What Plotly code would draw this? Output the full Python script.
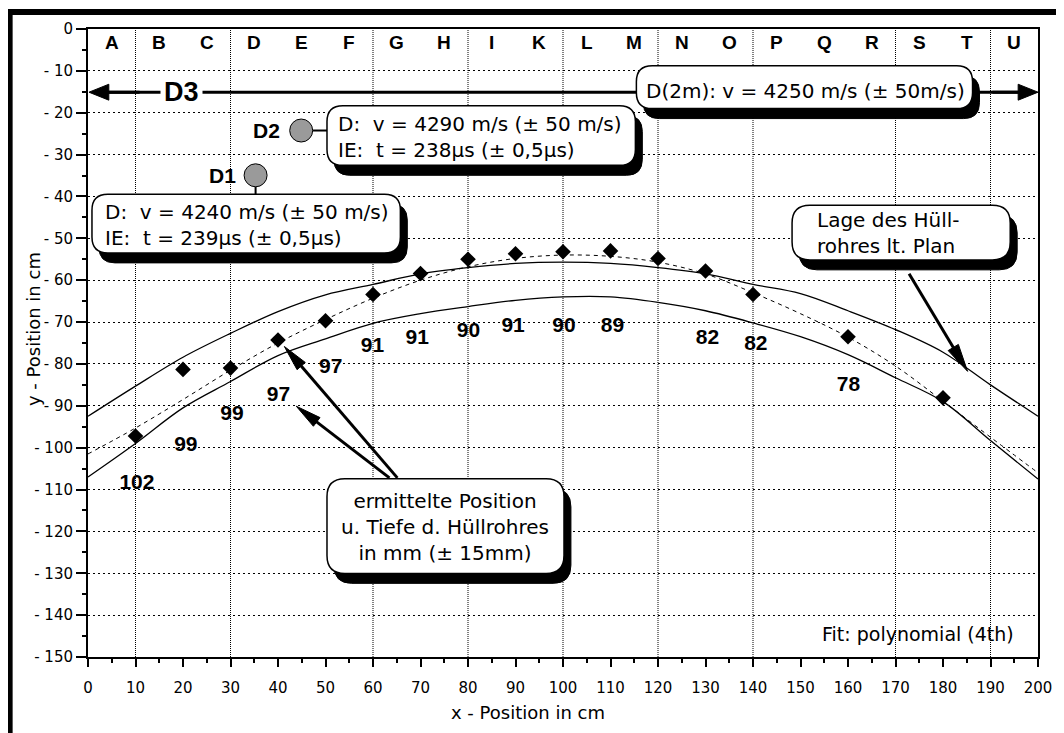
import plotly.graph_objects as go

# ---------------- data ----------------
x_meas = [10, 20, 30, 40, 50, 60, 70, 80, 90, 100, 110, 120, 130, 140, 160, 180]
y_meas = [-97.2, -81.3, -81.0, -74.3, -69.7, -63.4, -58.4, -55.0, -53.7, -53.2,
          -53.0, -54.8, -57.8, -63.4, -73.5, -88.1]

depth_mm = [102, 99, 99, 97, 97, 91, 91, 90, 91, 90, 89, 82, 82, 78]
depth_label_x = [10.3, 20.6, 30.3, 40.1, 51.1, 59.9, 69.3, 80.1, 89.5, 100.2,
                 110.4, 130.4, 140.6, 160.1]
depth_label_y = [-108.6, -99.5, -92.2, -87.7, -81.0, -75.8, -74.1, -72.2, -71.1,
                 -71.1, -71.1, -73.9, -75.4, -85.1]

curve_x = [0, 10, 20, 30, 40, 50, 60, 70, 80, 90, 100, 110, 120, 130, 140, 150,
           160, 170, 180, 190, 200]
plan_upper = [-92.5, -85.3, -78.4, -72.7, -67.5, -63.5, -61.0, -58.5, -57.0, -56.0,
              -55.7, -56.0, -57.0, -58.5, -61.0, -63.2, -67.3, -71.8, -77.2, -85.0, -92.5]
plan_lower = [-107.0, -99.0, -90.5, -84.2, -78.0, -74.0, -70.3, -68.0, -66.3, -64.8,
              -64.0, -64.0, -65.3, -67.3, -70.2, -73.5, -77.8, -83.3, -89.0, -98.3, -107.5]
fit_y = [-101.5, -95.3, -88.5, -81.5, -75.0, -69.4, -64.3, -60.0, -56.8, -54.8,
         -54.0, -54.3, -55.7, -58.5, -63.0, -68.0, -73.6, -80.5, -88.9, -97.5, -106.0]

section_letters = ["A", "B", "C", "D", "E", "F", "G", "H", "I", "K",
                   "L", "M", "N", "O", "P", "Q", "R", "S", "T", "U"]
section_boundaries = [10, 30, 60, 80, 100, 120, 140, 170, 190]

x_tick_vals = [0, 10, 20, 30, 40, 50, 60, 70, 80, 90, 100, 110, 120, 130, 140,
               150, 160, 170, 180, 190, 200]
y_tick_vals = [0, -10, -20, -30, -40, -50, -60, -70, -80, -90, -100, -110, -120,
               -130, -140, -150]
y_tick_text = ["0", "- 10", "- 20", "- 30", "- 40", "- 50", "- 60", "- 70", "- 80",
               "- 90", "- 100", "- 110", "- 120", "- 130", "- 140", "- 150"]

# ---------------- layout helpers (screen pixel -> data / paper) ----------------
SCREEN_W, SCREEN_H = 1064, 733
OFF = 8                      # default page margin of the html body
W, H = SCREEN_W - OFF, SCREEN_H - OFF
PX_L, PX_R, PX_T, PX_B = 88, 1046, 26, 657   # plot area in screen pixels
XMIN, XMAX, YMIN, YMAX = 0, 200, -150, 0


def X(px):
    return XMIN + (px - PX_L) / (PX_R - PX_L) * (XMAX - XMIN)


def Y(py):
    return YMAX - (py - PX_T) / (PX_B - PX_T) * (YMAX - YMIN)


def PXp(px):
    return (px - PX_L) / (PX_R - PX_L)


def PYp(py):
    return (PX_B - py) / (PX_B - PX_T)


def rrect(x0, y0, x1, y1, r):
    return (f"M {X(x0 + r)} {Y(y0)} L {X(x1 - r)} {Y(y0)} "
            f"Q {X(x1)} {Y(y0)} {X(x1)} {Y(y0 + r)} L {X(x1)} {Y(y1 - r)} "
            f"Q {X(x1)} {Y(y1)} {X(x1 - r)} {Y(y1)} L {X(x0 + r)} {Y(y1)} "
            f"Q {X(x0)} {Y(y1)} {X(x0)} {Y(y1 - r)} L {X(x0)} {Y(y0 + r)} "
            f"Q {X(x0)} {Y(y0)} {X(x0 + r)} {Y(y0)} Z")


shapes = []

# outer heavy frame (left and top)
shapes.append(dict(type="rect", xref="paper", yref="paper", x0=PXp(6), x1=PXp(12),
                   y0=PYp(SCREEN_H + 5), y1=PYp(6), fillcolor="black", line=dict(width=0)))
shapes.append(dict(type="rect", xref="paper", yref="paper", x0=PXp(6), x1=PXp(SCREEN_W + 5),
                   y0=PYp(12), y1=PYp(6), fillcolor="black", line=dict(width=0)))

# section boundary lines (dense dotted verticals)
for xb in section_boundaries:
    shapes.append(dict(type="line", xref="x", yref="y", x0=xb, x1=xb, y0=YMIN, y1=YMAX,
                       layer="between", line=dict(color="black", width=1, dash="1px,1px")))


def arrow(tx, ty, hx, hy, hl, hw, w):
    dxp, dyp = hx - tx, hy - ty
    L = (dxp ** 2 + dyp ** 2) ** 0.5
    ux, uy = dxp / L, dyp / L
    nx, ny = -uy, ux
    bx, by = hx - ux * hl, hy - uy * hl
    return [dict(type="line", xref="x", yref="y", x0=X(tx), y0=Y(ty),
                 x1=X(bx + ux * 3), y1=Y(by + uy * 3), line=dict(color="black", width=w)),
            dict(type="path", xref="x", yref="y",
                 path=(f"M {X(hx)} {Y(hy)} L {X(bx + nx * hw / 2)} {Y(by + ny * hw / 2)} "
                       f"L {X(bx - nx * hw / 2)} {Y(by - ny * hw / 2)} Z"),
                 fillcolor="black", line=dict(color="black", width=1))]


# D3 double arrow
d3_y = 89.5
shapes.append(dict(type="line", xref="x", yref="y", x0=X(100), x1=X(1030), y0=Y(d3_y),
                   y1=Y(d3_y), line=dict(color="black", width=3)))
shapes += arrow(140, d3_y, 89, d3_y, 20, 16, 3)
shapes += arrow(1000, d3_y, 1046, d3_y, 20, 16, 3)

# arrows from the annotation boxes
shapes += arrow(400, 477, 286, 345, 26, 11, 3)
shapes += arrow(392, 477, 298, 405, 26, 11, 3)
shapes += arrow(916, 272, 975, 370, 28, 12, 3)

# rounded boxes with shadow
boxes = [(641, 63, 980, 106, 16), (329, 103, 640, 163, 16), (92, 192, 403, 251, 16),
         (798, 203, 1018, 258, 18), (329, 478, 568, 573, 18)]
SX, SY = 7, 10
for (bx0, by0, bx1, by1, r) in boxes:
    shapes.append(dict(type="path", xref="x", yref="y",
                       path=rrect(bx0 + SX, by0 + SY, bx1 + SX, by1 + SY, r),
                       fillcolor="black", line=dict(color="black", width=1)))
    shapes.append(dict(type="path", xref="x", yref="y", path=rrect(bx0, by0, bx1, by1, r),
                       fillcolor="white", line=dict(color="black", width=1.5)))

# connectors and D1/D2 circles
shapes.append(dict(type="line", xref="x", yref="y", x0=X(314), x1=X(329), y0=Y(128),
                   y1=Y(128), line=dict(color="black", width=2)))
shapes.append(dict(type="line", xref="x", yref="y", x0=X(257), x1=X(257), y0=Y(184),
                   y1=Y(192), line=dict(color="black", width=2)))
for (cx, cy) in [(303, 128), (257, 173)]:
    shapes.append(dict(type="circle", xref="x", yref="y", xsizemode="pixel",
                       ysizemode="pixel", xanchor=X(cx), yanchor=Y(cy),
                       x0=-11.5, x1=11.5, y0=-11.5, y1=11.5,
                       fillcolor="#9a9a9a", line=dict(color="black", width=1)))

# ---------------- traces ----------------
fig = go.Figure()
fig.add_trace(go.Scatter(x=curve_x, y=plan_upper, mode="lines",
                         line=dict(color="black", width=1.3, shape="spline", smoothing=1),
                         hoverinfo="skip", showlegend=False))
fig.add_trace(go.Scatter(x=curve_x, y=plan_lower, mode="lines",
                         line=dict(color="black", width=1.3, shape="spline", smoothing=1),
                         hoverinfo="skip", showlegend=False))
fig.add_trace(go.Scatter(x=curve_x, y=fit_y, mode="lines",
                         line=dict(color="black", width=1, dash="4px,4px", shape="spline",
                                   smoothing=1),
                         hoverinfo="skip", showlegend=False))
fig.add_trace(go.Scatter(x=x_meas, y=y_meas, mode="markers",
                         marker=dict(symbol="diamond", size=12, color="black"),
                         showlegend=False))
fig.add_trace(go.Scatter(x=depth_label_x, y=depth_label_y, mode="text",
                         text=[str(v) for v in depth_mm],
                         textfont=dict(family="Liberation Sans", size=21, color="black",
                                       weight="bold"),
                         hoverinfo="skip", showlegend=False))

# ---------------- annotations ----------------
BOXFONT = dict(family="DejaVu Sans", size=20, color="black")
C = dict(xanchor="center", yanchor="middle", showarrow=False)
ann = []
for i, letter in enumerate(section_letters):
    ann.append(dict(x=5 + 10 * i, y=Y(40), text=letter, **C,
                    font=dict(family="Liberation Sans", size=19, color="black", weight="bold")))

ann.append(dict(x=X(182), y=Y(d3_y), text="D3", bgcolor="white", borderpad=3, **C,
                font=dict(family="Liberation Sans", size=27, color="black", weight="bold")))
ann.append(dict(x=X(268), y=Y(128), text="D2", **C,
                font=dict(family="Liberation Sans", size=21, color="black", weight="bold")))
ann.append(dict(x=X(224), y=Y(173), text="D1", **C,
                font=dict(family="Liberation Sans", size=21, color="black", weight="bold")))

ann.append(dict(x=X(812), y=Y(88), text="D(2m): v = 4250 m/s (± 50m/s)", **C, font=BOXFONT))
ann.append(dict(x=X(338), y=Y(135), xanchor="left", yanchor="middle", align="left",
                showarrow=False,
                text="D:  v = 4290 m/s (± 50 m/s)<br>IE:  t = 238µs (± 0,5µs)", font=BOXFONT))
ann.append(dict(x=X(103), y=Y(223), xanchor="left", yanchor="middle", align="left",
                showarrow=False,
                text="D:  v = 4240 m/s (± 50 m/s)<br>IE:  t = 239µs (± 0,5µs)", font=BOXFONT))
ann.append(dict(x=X(821), y=Y(231), xanchor="left", yanchor="middle", align="left",
                showarrow=False, text="Lage des Hüll-<br>rohres lt. Plan", font=BOXFONT))
ann.append(dict(x=X(448), y=Y(526), align="center", **C,
                text="ermittelte Position<br>u. Tiefe d. Hüllrohres<br>in mm (± 15mm)",
                font=BOXFONT))
ann.append(dict(x=X(1024), y=Y(634), xanchor="right", yanchor="middle", showarrow=False,
                text="Fit: polynomial (4th)",
                font=dict(family="DejaVu Sans", size=19, color="black")))

# axis titles
ann.append(dict(xref="paper", yref="paper", x=PXp(532), y=PYp(713), **C,
                text="x - Position in cm",
                font=dict(family="DejaVu Sans", size=18, color="black")))
ann.append(dict(xref="paper", yref="paper", x=PXp(33), y=PYp(327), **C,
                textangle=-90, text="y - Position in cm",
                font=dict(family="DejaVu Sans", size=18, color="black")))

fig.update_layout(
    width=W, height=H,
    margin=dict(l=PX_L - OFF, r=SCREEN_W - PX_R, t=PX_T - OFF, b=SCREEN_H - PX_B, pad=0),
    paper_bgcolor="white", plot_bgcolor="white",
    shapes=shapes, annotations=ann,
    xaxis=dict(range=[XMIN, XMAX], showgrid=False, zeroline=False,
               showline=True, linewidth=2, linecolor="black", mirror=True,
               tickmode="array", tickvals=x_tick_vals, ticks="outside", ticklen=8,
               tickwidth=1.5, tickcolor="black", ticklabelstandoff=8,
               tickfont=dict(family="DejaVu Sans", size=15, color="black"),
               minor=dict(tickvals=[v + 5 for v in x_tick_vals[:-1]], ticks="outside",
                          ticklen=4, tickwidth=1.5, tickcolor="black", showgrid=False)),
    yaxis=dict(range=[YMIN, YMAX], showgrid=True, gridcolor="black", gridwidth=1,
               griddash="2px,3px", zeroline=False,
               showline=True, linewidth=2, linecolor="black", mirror=True,
               tickmode="array", tickvals=y_tick_vals, ticktext=y_tick_text,
               ticks="outside", ticklen=10, tickwidth=1.5, tickcolor="black",
               tickfont=dict(family="DejaVu Sans", size=15, color="black"),
               minor=dict(tickvals=[v - 5 for v in y_tick_vals[:-1]], ticks="outside",
                          ticklen=4, tickwidth=1.5, tickcolor="black", showgrid=False)),
)

fig.write_html("out.html")
